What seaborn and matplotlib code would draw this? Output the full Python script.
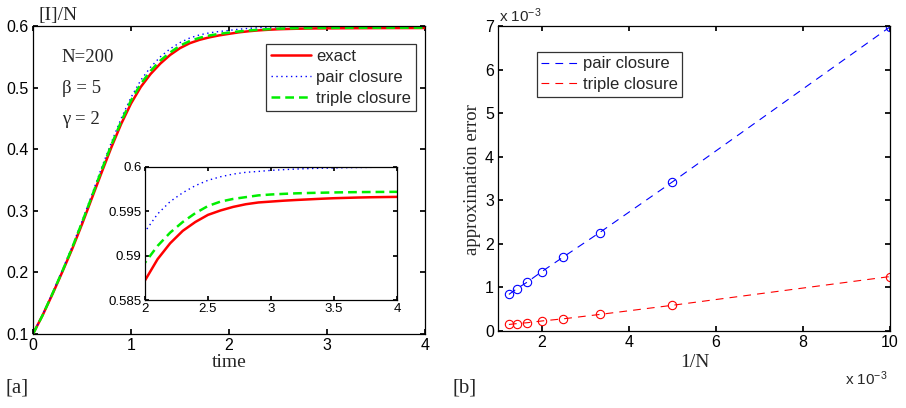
"""
Pair vs triple closure: epidemic curve and approximation error
"""

import pandas as pd
import matplotlib
matplotlib.use('Agg')
import matplotlib.pyplot as plt
from matplotlib.lines import Line2D
import seaborn as sns

# ---- data ----
time = [0.0, 0.1, 0.2, 0.3, 0.4, 0.5, 0.6, 0.7, 0.8, 0.9,
        1.0, 1.1, 1.2, 1.3, 1.4, 1.5, 1.6, 1.7, 1.8, 1.9,
        2.0, 2.1, 2.2, 2.3, 2.4, 2.5, 2.6, 2.7, 2.8, 2.9,
        3.0, 3.1, 3.2, 3.3, 3.4, 3.5, 3.6, 3.7, 3.8, 3.9, 4.0]
exact = [0.100, 0.131, 0.165, 0.201, 0.238, 0.278, 0.320, 0.362, 0.403, 0.441,
         0.474, 0.501, 0.522, 0.539, 0.553, 0.564, 0.572, 0.5775, 0.5815, 0.5847,
         0.5872, 0.5896, 0.5914, 0.5928, 0.5938, 0.5946, 0.5951, 0.5955, 0.5958, 0.5960,
         0.59610, 0.59620, 0.59628, 0.59635, 0.59642, 0.59648, 0.59652, 0.59656,
         0.59659, 0.59661, 0.59663]
triple = [0.100, 0.131, 0.166, 0.202, 0.240, 0.281, 0.323, 0.366, 0.407, 0.445,
          0.479, 0.506, 0.527, 0.544, 0.557, 0.568, 0.5755, 0.5808, 0.5845, 0.5872,
          0.5892, 0.5911, 0.5926, 0.5938, 0.5948, 0.5956, 0.5961, 0.5964, 0.5966, 0.5968,
          0.59690, 0.59697, 0.59703, 0.59707, 0.59710, 0.59713, 0.59715, 0.59717,
          0.59718, 0.59719, 0.59720]
pair = [0.100, 0.132, 0.167, 0.204, 0.242, 0.283, 0.326, 0.370, 0.411, 0.450,
        0.484, 0.512, 0.533, 0.550, 0.563, 0.573, 0.5805, 0.5855, 0.5888, 0.5910,
        0.5927, 0.5947, 0.5961, 0.5971, 0.5979, 0.5985, 0.5989, 0.5992, 0.5994, 0.5995,
        0.59962, 0.59970, 0.59977, 0.59982, 0.59986, 0.59989, 0.59992, 0.59994,
        0.59996, 0.59998, 0.60000]

inv_n = [1.25, 1.4286, 1.6667, 2.0, 2.5, 3.3333, 5.0, 10.0]   # x 10^-3
err_pair = [0.84, 0.97, 1.12, 1.36, 1.70, 2.26, 3.42, 6.98]    # x 10^-3
err_triple = [0.15, 0.17, 0.19, 0.23, 0.28, 0.38, 0.59, 1.25]  # x 10^-3

curves = pd.DataFrame({'time': time, 'exact': exact, 'pair': pair, 'triple': triple})
errors = pd.DataFrame({'invN': inv_n, 'pair': err_pair, 'triple': err_triple})

# ---- style ----
sns.set_theme(style='ticks')
plt.rcParams['font.family'] = ['Liberation Sans', 'DejaVu Sans']
plt.rcParams['mathtext.fontset'] = 'custom'
plt.rcParams['mathtext.rm'] = 'Liberation Sans'
plt.rcParams['mathtext.it'] = 'Liberation Sans'
plt.rcParams['xtick.direction'] = 'in'
plt.rcParams['ytick.direction'] = 'in'
plt.rcParams['xtick.top'] = True
plt.rcParams['ytick.right'] = True
plt.rcParams['xtick.major.size'] = 3.5
plt.rcParams['ytick.major.size'] = 3.5
plt.rcParams['xtick.color'] = 'black'
plt.rcParams['ytick.color'] = 'black'
plt.rcParams['axes.linewidth'] = 0.9
plt.rcParams['axes.edgecolor'] = 'black'

SERIF = ['Liberation Serif', 'DejaVu Serif']
RED, GREEN, BLUE = '#ff0000', '#00ee00', '#0000ff'

fig = plt.figure(figsize=(9.06, 4.08), dpi=100)
ax1 = fig.add_axes([0.0364, 0.1814, 0.4327, 0.755])
ax_in = fig.add_axes([0.1600, 0.2647, 0.2782, 0.326])
ax2 = fig.add_axes([0.5497, 0.1887, 0.4327, 0.7475])


def draw_curves(ax):
    sns.lineplot(data=curves, x='time', y='exact', ax=ax, color=RED,
                 linewidth=1.8, label='exact')
    sns.lineplot(data=curves, x='time', y='pair', ax=ax, color=BLUE,
                 linewidth=1.0, linestyle=(0, (1, 2.5)), label='pair closure')
    sns.lineplot(data=curves, x='time', y='triple', ax=ax, color=GREEN,
                 linewidth=1.8, linestyle=(0, (3.5, 2)), label='triple closure')


# ---- panel a ----
draw_curves(ax1)
ax1.set_xlim(0, 4)
ax1.set_ylim(0.1, 0.6)
ax1.set_xticks([0, 1, 2, 3, 4])
ax1.set_xticklabels(['0', '1', '2', '3', '4'])
ax1.set_yticks([0.1, 0.2, 0.3, 0.4, 0.5, 0.6])
ax1.set_yticklabels(['0.1', '0.2', '0.3', '0.4', '0.5', '0.6'])
ax1.tick_params(labelsize=11.5, pad=3)
ax1.set_xlabel('')
ax1.set_ylabel('')
leg = ax1.legend(loc='upper right', bbox_to_anchor=(0.459, 0.892),
                 bbox_transform=fig.transFigure, fontsize=12, frameon=True,
                 fancybox=False, edgecolor='black', handlelength=2.4,
                 borderpad=0.3, labelspacing=0.35, handletextpad=0.3,
                 borderaxespad=0)
leg.get_frame().set_linewidth(0.9)

fig.text(0.068, 0.860, 'N=200', fontsize=13.5, family=SERIF, va='center')
fig.text(0.068, 0.784, 'β = 5', fontsize=13.5, family=SERIF, va='center')
fig.text(0.068, 0.708, 'γ = 2', fontsize=13.5, family=SERIF, va='center')
fig.text(0.043, 0.962, '[I]/N', fontsize=14, family=SERIF, va='center')
fig.text(0.253, 0.112, 'time', fontsize=14, family=SERIF, ha='center', va='center')
fig.text(0.006, 0.05, '[a]', fontsize=15, family=SERIF, va='center')

# inset
draw_curves(ax_in)
ax_in.set_xlim(2, 4)
ax_in.set_ylim(0.585, 0.6)
ax_in.set_xticks([2, 2.5, 3, 3.5, 4])
ax_in.set_xticklabels(['2', '2.5', '3', '3.5', '4'])
ax_in.set_yticks([0.585, 0.59, 0.595, 0.6])
ax_in.set_yticklabels(['0.585', '0.59', '0.595', '0.6'])
ax_in.tick_params(labelsize=9.5, pad=2.5, length=3)
ax_in.set_xlabel('')
ax_in.set_ylabel('')
ax_in.get_legend().remove()

# ---- panel b ----
for col, color in [('pair', BLUE), ('triple', RED)]:
    sns.lineplot(data=errors, x='invN', y=col, ax=ax2, color=color, linewidth=0.8,
                 linestyle=(0, (7, 5.5)), marker='o', markersize=6,
                 markerfacecolor='none', markeredgecolor=color, markeredgewidth=0.8)
ax2.set_xlim(1, 10)
ax2.set_ylim(0, 7)
ax2.set_xticks([2, 4, 6, 8, 10])
ax2.set_xticklabels(['2', '4', '6', '8', '10'])
ax2.set_yticks(range(8))
ax2.set_yticklabels([str(v) for v in range(8)])
ax2.tick_params(labelsize=11.5, pad=3)
ax2.set_xlabel('')
ax2.set_ylabel('')

proxies = [Line2D([], [], color=BLUE, lw=0.8, linestyle=(0, (7, 5.5))),
           Line2D([], [], color=RED, lw=0.8, linestyle=(0, (7, 5.5)))]
leg2 = ax2.legend(proxies, ['pair closure', 'triple closure'], loc='upper left',
                  bbox_to_anchor=(0.5927, 0.8725), bbox_transform=fig.transFigure,
                  fontsize=12, frameon=True, fancybox=False, edgecolor='black',
                  handlelength=2.2, borderpad=0.26, labelspacing=0.35,
                  handletextpad=0.3, borderaxespad=0)
leg2.get_frame().set_linewidth(0.9)

fig.text(0.551, 0.962, r'x 10$^{-3}$', fontsize=11, va='center')
fig.text(0.933, 0.072, r'x 10$^{-3}$', fontsize=11, va='center')
fig.text(0.767, 0.112, '1/N', fontsize=14, family=SERIF, ha='center', va='center')
fig.text(0.521, 0.56, 'approximation error', fontsize=13.5, family=SERIF, rotation=90,
         ha='center', va='center')
fig.text(0.500, 0.05, '[b]', fontsize=15, family=SERIF, va='center')

fig.savefig('out.png', dpi=100)
